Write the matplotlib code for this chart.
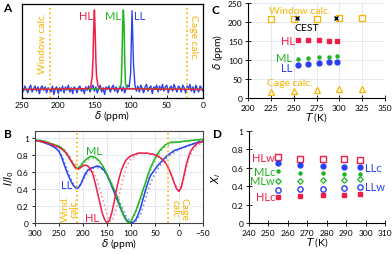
import numpy as np
import matplotlib
matplotlib.use('Agg')
import matplotlib.pyplot as plt

plt.rcParams['font.family'] = ['Lato', 'DejaVu Sans']
plt.rcParams['mathtext.fontset'] = 'dejavusans'

RED = '#f01e46'
GREEN = '#1fb41f'
BLUE = '#2a3ff0'
ORANGE = '#f7b400'
PINK = '#f590aa'
LGREEN = '#86dc86'
LBLUE = '#8090f5'
GRID = '#dfe5f0'

# ---- panel A: 129Xe spectra
ppm_a = np.arange(250, -1, -2)
ll_spec = [0.03, -0.02, 0.04, 0.00, -0.04, 0.02, 0.05, -0.03, 0.01, 0.04,
           -0.02, 0.03, -0.05, 0.02, 0.04, -0.01, 0.03, -0.04, 0.02, 0.00,
           -0.03, 0.04, -0.06, 0.01, 0.03, -0.05, 0.02, -0.02, 0.04, -0.04,
           0.03, -0.01, 0.05, -0.03, 0.02, -0.05, 0.03, 0.01, -0.04, 0.02,
           0.04, -0.02, 0.01, -0.05, 0.03, -0.01, 0.04, -0.03, 0.02, 0.05,
           -0.02, 0.03, -0.04, 0.01, 0.05, -0.03, 0.02, -0.06, 0.03, 0.00,
           0.04, -0.03, 0.02, 0.05, -0.02, 0.03, -0.04, 0.01, 0.04, -0.02,
           0.03, -0.04, 0.02, 0.05, 0.03, 0.18, 0.92, 0.30, 0.05, -0.02,
           0.04, -0.03, 0.05, 0.01, -0.04, 0.03, 0.06, -0.02, 0.02, 0.04,
           -0.05, 0.03, 0.01, 0.05, -0.03, 0.04, -0.01, 0.06, -0.02, 0.03,
           0.05, -0.04, 0.02, 0.04, -0.02, 0.06, 0.01, -0.03, 0.04, 0.02,
           -0.03, 0.05, 0.02, -0.04, 0.04, 0.01, 0.06, -0.02, 0.03, -0.04,
           0.05, 0.01, -0.03, 0.04, 0.02, -0.02]
hl_ppm = [250, 158, 155, 153, 152, 151, 150, 149, 148, 147, 145, 142, 0]
hl_spec = [0.0, 0.01, 0.04, 0.15, 0.35, 0.70, 0.93, 0.70, 0.35, 0.15, 0.04, 0.01, 0.0]
ml_ppm = [250, 116, 113, 112, 111, 110, 109, 108, 107, 104, 0]
ml_spec = [0.0, 0.01, 0.06, 0.30, 0.75, 0.93, 0.75, 0.30, 0.06, 0.01, 0.0]
window_calc = 212
cage_calc = 22

# ---- panel B: CEST z-spectra
ppm_b = np.arange(300, -51, -5)
hl_cest = [0.97, 0.965, 0.96, 0.955, 0.95, 0.94, 0.93, 0.92, 0.91, 0.90,
           0.89, 0.87, 0.85, 0.82, 0.78, 0.73, 0.68, 0.64, 0.63, 0.65,
           0.67, 0.68, 0.67, 0.64, 0.58, 0.48, 0.36, 0.24, 0.12, 0.04,
           0.00, 0.03, 0.12, 0.25, 0.40, 0.52, 0.62, 0.69, 0.74, 0.77,
           0.79, 0.80, 0.81, 0.82, 0.82, 0.82, 0.82, 0.82, 0.81, 0.81,
           0.80, 0.79, 0.77, 0.75, 0.72, 0.68, 0.62, 0.55, 0.47, 0.40,
           0.37, 0.42, 0.55, 0.68, 0.78, 0.85, 0.89, 0.92, 0.94, 0.95,
           0.96]
ml_cest = [0.97, 0.97, 0.97, 0.965, 0.96, 0.95, 0.94, 0.93, 0.92, 0.91,
           0.90, 0.88, 0.86, 0.82, 0.78, 0.73, 0.69, 0.65, 0.64, 0.67,
           0.71, 0.74, 0.76, 0.78, 0.78, 0.77, 0.75, 0.72, 0.68, 0.63,
           0.57, 0.51, 0.45, 0.39, 0.32, 0.24, 0.16, 0.08, 0.03, 0.00,
           0.02, 0.08, 0.14, 0.22, 0.30, 0.39, 0.47, 0.56, 0.64, 0.70,
           0.76, 0.81, 0.85, 0.88, 0.91, 0.93, 0.94, 0.95, 0.95, 0.95,
           0.95, 0.955, 0.96, 0.96, 0.965, 0.97, 0.97, 0.975, 0.975, 0.98,
           0.98]
ll_cest = [0.97, 0.965, 0.96, 0.95, 0.94, 0.93, 0.92, 0.905, 0.89, 0.87,
           0.84, 0.78, 0.70, 0.62, 0.55, 0.49, 0.44, 0.41, 0.41, 0.45,
           0.52, 0.58, 0.62, 0.64, 0.65, 0.66, 0.67, 0.66, 0.64, 0.61,
           0.56, 0.50, 0.43, 0.36, 0.29, 0.22, 0.15, 0.09, 0.04, 0.01,
           0.00, 0.01, 0.04, 0.10, 0.18, 0.28, 0.38, 0.47, 0.55, 0.59,
           0.63, 0.67, 0.70, 0.73, 0.76, 0.79, 0.81, 0.83, 0.85, 0.86,
           0.87, 0.88, 0.89, 0.90, 0.91, 0.92, 0.93, 0.94, 0.95, 0.955,
           0.96]
ppm_fit = [300, 290, 280, 270, 260, 250, 240, 230, 220, 210, 200, 190, 180,
           170, 160, 150, 140, 130, 120, 110, 100, 90, 80, 70, 60, 50, 40,
           30, 20, 10, 0, -10, -20, -30, -40, -50]
ll_fit = [0.97, 0.96, 0.95, 0.93, 0.90, 0.85, 0.74, 0.58, 0.46, 0.42, 0.50,
          0.60, 0.64, 0.65, 0.63, 0.57, 0.46, 0.33, 0.20, 0.08, 0.01, 0.02,
          0.10, 0.28, 0.46, 0.58, 0.67, 0.74, 0.79, 0.83, 0.86, 0.89, 0.91,
          0.93, 0.94, 0.95]
ml_fit = [0.97, 0.97, 0.96, 0.94, 0.92, 0.89, 0.84, 0.77, 0.69, 0.65, 0.69,
          0.74, 0.76, 0.74, 0.68, 0.58, 0.44, 0.29, 0.14, 0.03, 0.02, 0.12,
          0.27, 0.44, 0.60, 0.73, 0.83, 0.89, 0.92, 0.94, 0.95, 0.96, 0.96,
          0.97, 0.97, 0.97]
hl_fit_ppm = [300, 290, 280, 270, 260, 250, 240, 230, 220, 210, 200, 190, 180,
              170, 160, 150, 145, 140, 130, 120, 110, 100, 90, 80, 70, 60, 50,
              40, 30, 20, 10, 0, -10, -20, -30, -40, -50]
hl_fit = [0.97, 0.96, 0.95, 0.94, 0.92, 0.90, 0.87, 0.80, 0.71, 0.66, 0.68,
          0.67, 0.62, 0.50, 0.30, 0.10, 0.02, 0.02, 0.18, 0.45, 0.65, 0.76,
          0.80, 0.82, 0.82, 0.81, 0.80, 0.77, 0.72, 0.62, 0.48, 0.38, 0.52,
          0.75, 0.87, 0.92, 0.94]

# ---- panel C: chemical shift vs temperature
T_calc = [225, 250, 275, 300, 325]
window_shift = [207, 208, 209, 210, 211]
cage_shift = [16.6, 18.4, 20.3, 22.9, 23.7]
T_cest = [254, 296]
cest_shift = [210, 210]
T_exp = [255, 266, 278, 289, 297]
hl_shift = [152, 152, 151.5, 151, 151]
ml_shift = [102.6, 104.5, 107, 108.7, 110.5]
ll_shift = [86, 88.7, 91.3, 94, 95.5]

# ---- panel D: populations
hlw = [0.712, 0.701, 0.694, 0.694, 0.683]
llc = [0.647, 0.629, 0.619, 0.612, 0.604]
mlc = [0.561, 0.547, 0.540, 0.536, 0.529]
mlw = [0.457, 0.460, 0.464, 0.468, 0.475]
llw = [0.360, 0.367, 0.374, 0.385, 0.392]
hlc = [0.288, 0.291, 0.302, 0.309, 0.313]

W, H = 392, 255
fig = plt.figure(figsize=(W / 100, H / 100), dpi=100)


def box(l, t, r, b):
    return [l / W, 1 - b / H, (r - l) / W, (b - t) / H]


axA = fig.add_axes(box(22, 5, 203, 99))
axB = fig.add_axes(box(35, 132, 203, 224))
axC = fig.add_axes(box(248, 4, 385, 99))
axD = fig.add_axes(box(249, 132, 385, 224))

for ax in (axA, axB, axC, axD):
    ax.tick_params(labelsize=6, length=2.5, width=0.6, pad=2)

# A
axA.plot(ppm_a, ll_spec, color=BLUE, lw=1.0)
axA.plot(ml_ppm, ml_spec, color=GREEN, lw=1.1)
axA.plot(hl_ppm, hl_spec, color=RED, lw=1.1)
axA.axvline(window_calc, color=ORANGE, ls=':', lw=1.2)
axA.axvline(cage_calc, color=ORANGE, ls=':', lw=1.2)
axA.set_xlim(250, 0)
axA.set_ylim(-0.1, 1.0)
axA.set_yticks([])
axA.set_xticks([250, 200, 150, 100, 50, 0])
axA.tick_params(axis='x', direction='in')
for s in axA.spines.values():
    s.set_linewidth(0.9)
axA.set_xlabel(r'$\delta$ (ppm)', fontsize=7.5, labelpad=0)
axA.text(162, 0.87, 'HL', color=RED, fontsize=8, ha='center', va='center')
axA.text(124, 0.87, 'ML', color=GREEN, fontsize=8, ha='center', va='center')
axA.text(88, 0.87, 'LL', color=BLUE, fontsize=8, ha='center', va='center')
axA.text(221, 0.55, 'Window calc.', color=ORANGE, fontsize=7.5, rotation=90,
         ha='center', va='center')
axA.text(13, 0.62, 'Cage calc.', color=ORANGE, fontsize=7.5, rotation=270,
         ha='center', va='center')

# B
axB.grid(True, color=GRID, lw=0.6)
axB.set_axisbelow(True)
axB.plot(ppm_fit, ll_fit, color=LBLUE, ls=':', lw=1.2)
axB.plot(ppm_fit, ml_fit, color=LGREEN, ls=':', lw=1.2)
axB.plot(hl_fit_ppm, hl_fit, color=PINK, ls=':', lw=1.2)
axB.plot(ppm_b, ll_cest, color=BLUE, lw=1.1)
axB.plot(ppm_b, ml_cest, color=GREEN, lw=1.1)
axB.plot(ppm_b, hl_cest, color=RED, lw=1.1)
axB.axvline(window_calc, color=ORANGE, ls=':', lw=1.2)
axB.axvline(cage_calc, color=ORANGE, ls=':', lw=1.2)
axB.set_xlim(300, -50)
axB.set_ylim(0, 1.08)
axB.set_xticks([300, 250, 200, 150, 100, 50, 0, -50])
axB.set_yticks([0, 0.2, 0.4, 0.6, 0.8, 1])
axB.set_yticklabels(['0', '0.2', '0.4', '0.6', '0.8', '1'])
for s in axB.spines.values():
    s.set_linewidth(0.8)
    s.set_color('#444444')
axB.set_xlabel(r'$\delta$ (ppm)', fontsize=7.5, labelpad=0)
axB.set_ylabel(r'$I/I_0$', fontsize=7.5, labelpad=1)
axB.text(178, 0.85, 'ML', color=GREEN, fontsize=8, ha='center', va='center')
axB.text(235, 0.45, 'LL', color=BLUE, fontsize=8, ha='center', va='center')
axB.text(181, 0.07, 'HL', color=RED, fontsize=8, ha='center', va='center')
axB.text(228, 0.19, 'Wind.\ncalc.', color=ORANGE, fontsize=7.5, rotation=90,
         ha='center', va='center', linespacing=0.9)
axB.text(-1, 0.17, 'Cage\ncalc.', color=ORANGE, fontsize=7.5, rotation=270,
         ha='center', va='center', linespacing=0.9)

# C
axC.grid(True, color=GRID, lw=0.6)
axC.set_axisbelow(True)
axC.plot(T_calc, window_shift, 's', mfc='white', mec=ORANGE, ms=4, mew=0.9)
axC.plot(T_calc, cage_shift, '^', mfc='white', mec=ORANGE, ms=4, mew=0.9)
axC.plot(T_cest, cest_shift, 'x', color='black', ms=3.5, mew=1.0)
axC.plot(T_exp, hl_shift, 's', color=RED, ms=3.5)
axC.plot(T_exp, ml_shift, 'o', color=GREEN, ms=2.2)
axC.plot(T_exp, ll_shift, 'o', color=BLUE, ms=3.5)
axC.set_xlim(200, 350)
axC.set_ylim(0, 250)
axC.set_xticks([200, 225, 250, 275, 300, 325, 350])
axC.set_yticks([0, 50, 100, 150, 200, 250])
axC.tick_params(axis='y', direction='inout', length=4)
axC.tick_params(axis='x', direction='inout', length=4)
axC.spines['top'].set_visible(False)
axC.spines['right'].set_visible(False)
axC.set_xlabel(r'$T$ (K)', fontsize=7.5, labelpad=0)
axC.set_ylabel(r'$\delta$ (ppm)', fontsize=7.5, labelpad=2)
axC.text(257, 230, 'Window calc.', color=ORANGE, fontsize=7.5, ha='center',
         va='center')
axC.text(264, 186, 'CEST', color='black', fontsize=7.5, ha='center', va='center')
axC.text(251, 152, 'HL', color=RED, fontsize=8, ha='right', va='center')
axC.text(248, 107, 'ML', color=GREEN, fontsize=8, ha='right', va='center')
axC.text(248, 81, 'LL', color=BLUE, fontsize=8, ha='right', va='center')
axC.text(246, 41, 'Cage calc.', color=ORANGE, fontsize=7.5, ha='center',
         va='center')

# D
axD.plot(T_exp, hlw, 's', mfc='white', mec=RED, ms=3.8, mew=1.0)
axD.plot(T_exp, llc, 'o', color=BLUE, ms=3.5)
axD.plot(T_exp, mlc, 'o', color=GREEN, ms=2.2)
axD.plot(T_exp, mlw, 'D', mfc='white', mec=GREEN, ms=2.8, mew=0.9)
axD.plot(T_exp, llw, 'o', mfc='white', mec=BLUE, ms=3.8, mew=1.0)
axD.plot(T_exp, hlc, 's', color=RED, ms=3.5)
axD.set_xlim(240, 310)
axD.set_ylim(0, 1)
axD.set_xticks([240, 250, 260, 270, 280, 290, 300, 310])
axD.set_yticks([0, 0.2, 0.4, 0.6, 0.8, 1])
axD.set_yticklabels(['0', '0.2', '0.4', '0.6', '0.8', '1'])
axD.tick_params(axis='y', direction='inout', length=4)
axD.tick_params(axis='x', direction='inout', length=4)
axD.spines['top'].set_visible(False)
axD.spines['right'].set_visible(False)
axD.set_xlabel(r'$T$ (K)', fontsize=7.5, labelpad=0)
axD.set_ylabel(r'$X_i$', fontsize=7.5, labelpad=6)
axD.text(253.5, 0.712, 'HLw', color=RED, fontsize=8, ha='right', va='center')
axD.text(253.5, 0.561, 'MLc', color=GREEN, fontsize=8, ha='right', va='center')
axD.text(253.5, 0.457, 'MLw', color=GREEN, fontsize=8, ha='right', va='center')
axD.text(253.5, 0.288, 'HLc', color=RED, fontsize=8, ha='right', va='center')
axD.text(299.5, 0.604, 'LLc', color=BLUE, fontsize=8, ha='left', va='center')
axD.text(299.5, 0.392, 'LLw', color=BLUE, fontsize=8, ha='left', va='center')

# panel letters
for x, y, lab in [(7, 9, 'A'), (8, 135, 'B'), (215, 11, 'C'), (218, 135, 'D')]:
    fig.text(x / W, 1 - y / H, lab, fontsize=8.5, fontweight='bold',
             ha='center', va='center')

fig.savefig('out.png', dpi=100)
